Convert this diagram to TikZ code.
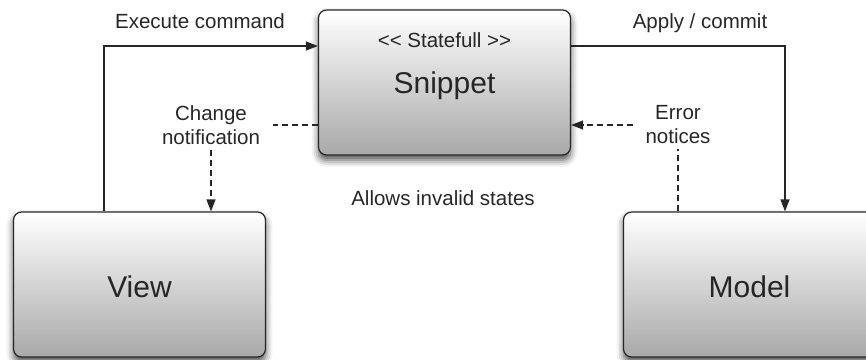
\documentclass[tikz,border=0pt]{standalone}
\usepackage{fontspec}
\setmainfont{Liberation Sans}
\usetikzlibrary{arrows.meta,shadows.blur}
\definecolor{ink}{HTML}{262626}
\tikzset{
  box/.style={draw=ink, line width=1.2pt, rounded corners=8pt,
    top color=white, bottom color=black!34,
    blur shadow={shadow xshift=0pt, shadow yshift=-5pt, shadow blur radius=7pt, shadow opacity=70},
    minimum width=252pt, minimum height=145pt, inner sep=0pt},
  big/.style={text=ink, font=\fontsize{30}{36}\selectfont, inner sep=0pt},
  lbl/.style={text=ink, font=\fontsize{20.5}{24}\selectfont, align=center, inner sep=0pt},
  conn/.style={draw=ink, line width=1.2pt},
  arr/.style={-{Triangle[length=12pt,width=9pt]}},
  dsh/.style={dash pattern=on 6pt off 4pt}
}
\begin{document}
\begin{tikzpicture}[x=1pt,y=-1pt]
\useasboundingbox (0,0) rectangle (866,359);
\begin{scope}
\clip (0,0) rectangle (866,359);
\node[box] (snip) at (444.5,82.5) {};
\node[box] (view) at (139.5,284.5) {};
\node[box] (model) at (749.5,284.5) {};
\end{scope}
\node[lbl, anchor=base] (stf) at (444.5,47) {<\kern0pt< Statefull >\kern0pt>};
\node[big, anchor=base] (snt) at (444.5,93) {Snippet};
\node[big, anchor=base] (vt) at (139.5,297) {View};
\node[big, anchor=base] (mt) at (749.5,297) {Model};
\node[lbl, anchor=base] (exe) at (200,28) {Execute command};
\node[lbl, anchor=base] (app) at (700,28) {Apply / commit};
\node[lbl, anchor=base] (inv) at (443,205) {Allows invalid states};
\node[lbl, inner xsep=13pt, inner ysep=5pt] (chg) at (211,125) {Change\\notification};
\node[lbl, inner xsep=12pt, inner ysep=5pt] (err) at (678,125) {Error\\notices};
\coordinate (a1) at (104,46);
\coordinate (a2) at (785,46);
% execute command
\draw[conn, arr] (view.north -| a1) -- (a1) -- (a1 -| snip.west);
% apply / commit
\draw[conn, arr] (a2 -| snip.east) -- (a2) -- (a2 |- model.north);
% change notification
\draw[conn, dsh] (chg.east -| snip.west) -- (chg.east);
\draw[conn, dsh, arr] (chg.south) -- (chg.south |- view.north);
% error notices
\draw[conn, dsh] (err.south |- model.north) -- (err.south);
\draw[conn, dsh, arr] (err.west) -- (err.west -| snip.east);
\end{tikzpicture}
\end{document}
